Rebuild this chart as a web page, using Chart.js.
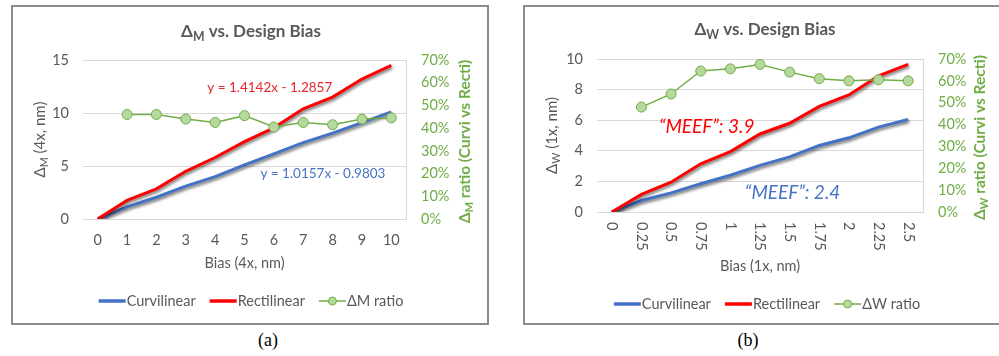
<!DOCTYPE html>
<html>
<head>
<meta charset="utf-8">
<script src="https://cdn.jsdelivr.net/npm/chart.js"></script>
<style>
  body { margin: 0; background: #fff; width: 999px; height: 356px; overflow: hidden; position: relative; }
  .panel { position: absolute; top: 5px; width: 474px; height: 316px; border: 2px solid #8c8c8c; background: #fff; }
  .cap { position: absolute; top: 330px; width: 60px; text-align: center; font: 18px "Liberation Serif", serif; color: #000; }
</style>
</head>
<body>
<div class="panel" style="left:11px"><canvas id="chartA" width="474" height="316"></canvas></div>
<div class="panel" style="left:523px"><canvas id="chartB" width="474" height="316"></canvas></div>
<div class="cap" style="left:238px">(a)</div>
<div class="cap" style="left:718px">(b)</div>
<script>
// panel (a): ΔM, 4x
const biasA = ['0', '1', '2', '3', '4', '5', '6', '7', '8', '9', '10'];
const curviA = [0, 1.15, 2.05, 3.1, 4.0, 5.1, 6.15, 7.2, 8.1, 9.1, 10.1];
const rectiA = [0, 1.75, 2.85, 4.5, 5.8, 7.3, 8.6, 10.4, 11.5, 13.2, 14.5];
const ratioA = [null, 46, 46, 44, 42.5, 45.5, 40.5, 42.5, 41.5, 44, 44.5];

// panel (b): ΔW, 1x
const biasB = ['0', '0.25', '0.5', '0.75', '1', '1.25', '1.5', '1.75', '2', '2.25', '2.5'];
const curviB = [0, 0.75, 1.25, 1.85, 2.4, 3.05, 3.6, 4.35, 4.85, 5.55, 6.05];
const rectiB = [0, 1.15, 1.95, 3.15, 3.95, 5.1, 5.8, 6.9, 7.65, 8.9, 9.65];
const ratioB = [null, 48, 54, 64.5, 65.5, 67.5, 64, 61, 60, 60.5, 60];

const FONT = 'Lato, "Open Sans", sans-serif';
const GRAY = '#595959';
const GREEN = '#70ad47';
const TICK = 14.5;

function fontStr(size, weight, style) {
    return (style || 'normal') + ' ' + (weight || 'normal') + ' ' + size + 'px ' + FONT;
}

// draw text pieces, second item true = subscript
function drawParts(ctx, parts, x, y, size, weight, color, style) {
    let w = 0;
    parts.forEach(function(p) {
        ctx.font = fontStr(p[1] ? size * 0.72 : size, weight, style);
        w += ctx.measureText(p[0]).width;
    });
    let cx = x - w / 2;
    ctx.fillStyle = color;
    ctx.textAlign = 'left';
    ctx.textBaseline = 'middle';
    parts.forEach(function(p) {
        ctx.font = fontStr(p[1] ? size * 0.72 : size, weight, style);
        ctx.fillText(p[0], cx, y + (p[1] ? size * 0.3 : 0));
        cx += ctx.measureText(p[0]).width;
    });
}

function drawRotated(ctx, parts, x, y, size, weight, color) {
    ctx.save();
    ctx.translate(x, y);
    ctx.rotate(-Math.PI / 2);
    drawParts(ctx, parts, 0, 0, size, weight, color);
    ctx.restore();
}

const shadowPlugin = {
    id: 'shadow',
    beforeDatasetDraw(chart, args) {
        const ds = chart.data.datasets[args.index];
        chart.ctx.save();
        if (ds.shadow) {
            chart.ctx.shadowColor = 'rgba(0,0,0,0.55)';
            chart.ctx.shadowBlur = 3;
            chart.ctx.shadowOffsetX = 1;
            chart.ctx.shadowOffsetY = 2;
        }
    },
    afterDatasetDraw(chart) {
        chart.ctx.restore();
    }
};

const decoPlugin = {
    id: 'deco',
    afterDraw(chart, args, opts) {
        const ctx = chart.ctx;
        const area = chart.chartArea;
        const sx = chart.scales.x, sy = chart.scales.y;
        const midY = (area.top + area.bottom) / 2;
        const midX = (area.left + area.right) / 2;

        drawParts(ctx, opts.title, opts.titleX, opts.titleY, 17, 'bold', GRAY);
        drawRotated(ctx, opts.yTitle, 27, midY, 15, 'normal', GRAY);
        drawRotated(ctx, opts.y2Title, opts.y2TitleX, midY + 2, 15.5, 'bold', GREEN);
        drawParts(ctx, [[opts.xTitle]], midX, opts.xTitleY, TICK, 'normal', GRAY);

        // rotated category labels, read top-down
        if (opts.rotateTicks) {
            ctx.save();
            ctx.font = fontStr(TICK);
            ctx.fillStyle = GRAY;
            ctx.textAlign = 'left';
            ctx.textBaseline = 'middle';
            chart.data.labels.forEach(function(lab, i) {
                ctx.save();
                ctx.translate(sx.getPixelForTick(i), area.bottom + 10);
                ctx.rotate(Math.PI / 2);
                ctx.fillText(lab, 0, 0);
                ctx.restore();
            });
            ctx.restore();
        }

        opts.notes.forEach(function(n) {
            drawParts(ctx, [[n.text]], sx.getPixelForValue(n.x), sy.getPixelForValue(n.y),
                n.size, 'normal', n.color, n.italic ? 'italic' : 'normal');
        });

        // legend
        ctx.font = fontStr(TICK);
        const items = chart.data.datasets.map(function(ds) {
            return { ds: ds, w: 28 + ctx.measureText(ds.label).width };
        });
        const gap = 14;
        let total = items.reduce(function(s, it) { return s + it.w; }, 0) + gap * (items.length - 1);
        let lx = opts.legendX - total / 2;
        const ly = opts.legendY;
        items.forEach(function(it) {
            const ds = it.ds;
            ctx.save();
            ctx.strokeStyle = ds.borderColor;
            ctx.lineWidth = ds.pointRadius ? ds.borderWidth : 3.5;
            ctx.beginPath();
            ctx.moveTo(lx, ly);
            ctx.lineTo(lx + 27, ly);
            ctx.stroke();
            if (ds.pointRadius) {
                ctx.beginPath();
                ctx.arc(lx + 13.5, ly, 4, 0, Math.PI * 2);
                ctx.fillStyle = ds.pointBackgroundColor;
                ctx.fill();
                ctx.lineWidth = 1;
                ctx.stroke();
            }
            ctx.restore();
            ctx.font = fontStr(TICK);
            ctx.fillStyle = GRAY;
            ctx.textAlign = 'left';
            ctx.textBaseline = 'middle';
            ctx.fillText(ds.label, lx + 28, ly);
            lx += it.w + gap;
        });
    }
};

function makeChart(id, p) {
    return new Chart(document.getElementById(id), {
        type: 'line',
        data: {
            labels: p.labels,
            datasets: [
                { label: 'Curvilinear', data: p.curvi, borderColor: '#4472c4', borderWidth: 3,
                  pointRadius: 0, yAxisID: 'y', order: 2, shadow: true },
                { label: 'Rectilinear', data: p.recti, borderColor: '#ff0000', borderWidth: 3,
                  pointRadius: 0, yAxisID: 'y', order: 1, shadow: true },
                { label: p.ratioLabel, data: p.ratio, borderColor: GREEN, borderWidth: 1.5,
                  pointRadius: 5, pointBackgroundColor: '#b5d99c', pointBorderColor: GREEN,
                  pointBorderWidth: 1, yAxisID: 'y2', order: 0 }
            ]
        },
        options: {
            responsive: false,
            animation: false,
            devicePixelRatio: 1,
            layout: { padding: { top: p.top, left: 0, right: 0, bottom: 0 } },
            plugins: {
                legend: { display: false },
                tooltip: { enabled: false },
                deco: p.deco
            },
            scales: {
                x: {
                    type: 'category',
                    offset: true,
                    grid: { display: false, drawTicks: false },
                    border: { display: true, color: '#d9d9d9' },
                    ticks: { display: !p.deco.rotateTicks, color: GRAY, font: { family: FONT, size: TICK },
                             padding: 13, autoSkip: false, maxRotation: 0 },
                    afterFit: function(s) { s.height = p.xHeight; }
                },
                y: {
                    position: 'left',
                    min: 0, max: p.yMax,
                    ticks: { stepSize: p.yStep, color: GRAY, font: { family: FONT, size: TICK }, padding: 14 },
                    grid: { color: '#d9d9d9', drawTicks: false },
                    border: { display: false },
                    afterFit: function(s) { s.width = p.yWidth; }
                },
                y2: {
                    position: 'right',
                    min: 0, max: 70,
                    ticks: { stepSize: 10, color: GREEN, font: { family: FONT, size: TICK }, padding: 15,
                             callback: function(v) { return v + '%'; } },
                    grid: { display: false, drawTicks: false },
                    border: { display: true, color: '#d9d9d9' },
                    afterFit: function(s) { s.width = p.y2Width; }
                }
            }
        },
        plugins: [shadowPlugin, decoPlugin]
    });
}

makeChart('chartA', {
    labels: biasA, curvi: curviA, recti: rectiA, ratio: ratioA, ratioLabel: '\u0394M ratio',
    top: 53, xHeight: 104, yWidth: 70, y2Width: 81, yMax: 15, yStep: 5,
    deco: {
        title: [['\u0394'], ['M', true], [' vs. Design Bias']], titleX: 238, titleY: 25,
        yTitle: [['\u0394'], ['M', true], [' (4x, nm)']],
        y2Title: [['\u0394'], ['M', true], [' ratio (Curvi vs Recti)']], y2TitleX: 452,
        xTitle: 'Bias (4x, nm)', xTitleY: 256,
        legendX: 238, legendY: 294,
        rotateTicks: false,
        notes: [
            { text: 'y = 1.4142x - 1.2857', x: 5.86, y: 12.4, size: 13.5, color: '#e8262b' },
            { text: 'y = 1.0157x - 0.9803', x: 7.67, y: 4.3, size: 13.5, color: '#4472c4' }
        ]
    }
});

makeChart('chartB', {
    labels: biasB, curvi: curviB, recti: rectiB, ratio: ratioB, ratioLabel: '\u0394W ratio',
    top: 52, xHeight: 111, yWidth: 72, y2Width: 76, yMax: 10, yStep: 2,
    deco: {
        title: [['\u0394'], ['W', true], [' vs. Design Bias']], titleX: 240, titleY: 23,
        yTitle: [['\u0394'], ['W', true], [' (1x, nm)']],
        y2Title: [['\u0394'], ['W', true], [' ratio (Curvi vs Recti)']], y2TitleX: 455,
        xTitle: 'Bias (1x, nm)', xTitleY: 259,
        legendX: 242, legendY: 297,
        rotateTicks: true,
        notes: [
            { text: '\u201cMEEF\u201d: 3.9', x: 3.2, y: 5.55, size: 19, color: '#ff0000', italic: true },
            { text: '\u201cMEEF\u201d: 2.4', x: 6.1, y: 1.24, size: 19, color: '#4472c4', italic: true }
        ]
    }
});
</script>
</body>
</html>
